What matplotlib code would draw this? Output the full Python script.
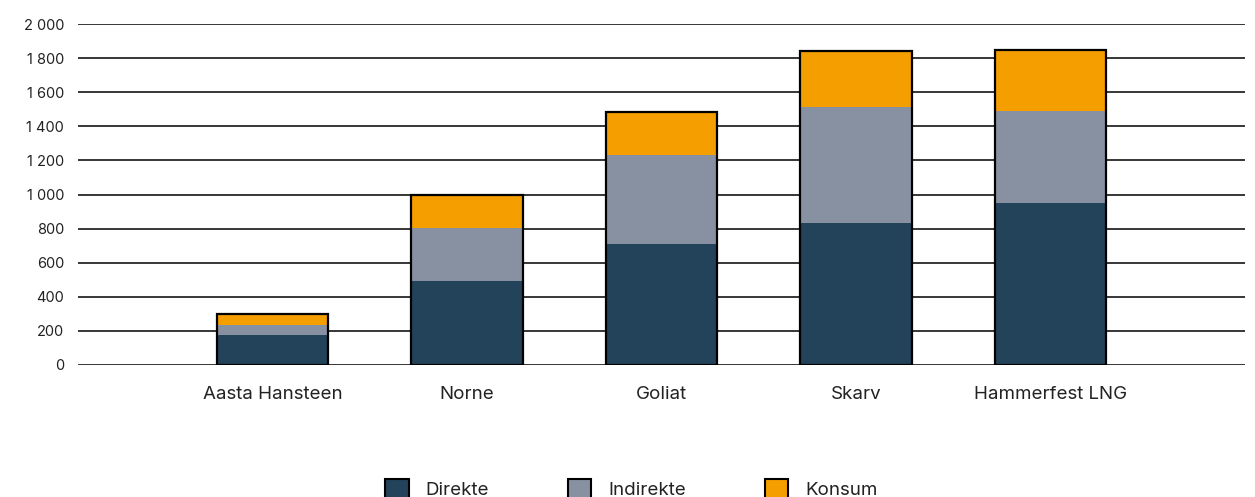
import matplotlib.pyplot as plt
import numpy as np
from matplotlib.patches import Patch

plt.rcParams['font.family'] = ['Inter', 'DejaVu Sans']

# data
felt = ['Aasta Hansteen', 'Norne', 'Goliat', 'Skarv', 'Hammerfest LNG']
direkte = [175, 490, 710, 830, 950]
indirekte = [60, 315, 520, 685, 540]
konsum = [65, 195, 255, 325, 355]

farger = {'Direkte': '#22435a', 'Indirekte': '#8891a1', 'Konsum': '#f59e00'}

fig = plt.figure(figsize=(12.55, 4.97), dpi=100)
ax = fig.add_axes([0.0622, 0.2656, 0.9298, 0.6861])

x = np.arange(len(felt))
w = 0.574
d = np.array(direkte)
i = np.array(indirekte)
k = np.array(konsum)

ax.bar(x, d, w, color=farger['Direkte'], zorder=3)
ax.bar(x, i, w, bottom=d, color=farger['Indirekte'], zorder=3)
ax.bar(x, k, w, bottom=d + i, color=farger['Konsum'], zorder=3)
# black outline around each stacked bar
ax.bar(x, d + i + k, w, fill=False, edgecolor='black', linewidth=1.6, zorder=4)

ax.set_xlim(-1, 5)
ax.set_ylim(0, 2000)
ax.set_yticks(range(0, 2001, 200))
ax.set_yticklabels([f'{v:,}'.replace(',', ' ') for v in range(0, 2001, 200)], fontsize=10.5)
ax.set_xticks(x)
ax.set_xticklabels(felt, fontsize=13.5)
ax.tick_params(axis='both', length=0, colors='#222222')
ax.tick_params(axis='x', pad=15)
ax.tick_params(axis='y', pad=10)
ax.yaxis.grid(True, color='black', linewidth=1.1, zorder=0)
ax.set_axisbelow(True)
for s in ax.spines.values():
    s.set_visible(False)

handles = [Patch(facecolor=c, edgecolor='black', linewidth=1.5, label=n) for n, c in farger.items()]
fig.legend(handles=handles, loc='center', bbox_to_anchor=(0.503, 0.016), ncol=3,
           frameon=False, fontsize=13.5, handlelength=1.25, handleheight=1.25,
           columnspacing=4.2, handletextpad=0.9, labelcolor='#222222')

fig.savefig('out.png', dpi=100)
